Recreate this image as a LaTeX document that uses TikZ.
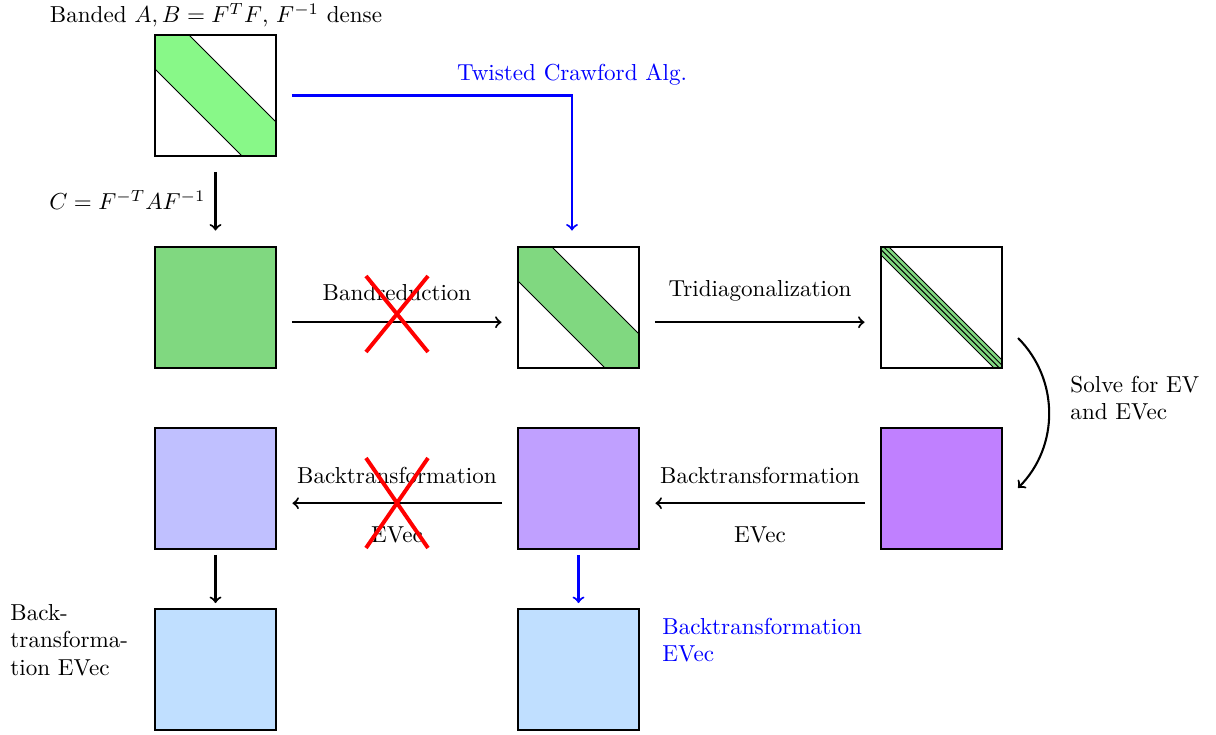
\documentclass[tikz,border=0pt]{standalone}
\usetikzlibrary{calc}
\definecolor{bandlight}{RGB}{136,248,136}
\definecolor{bandgreen}{RGB}{128,216,128}
\definecolor{purA}{RGB}{192,192,255}
\definecolor{purB}{RGB}{192,160,255}
\definecolor{purC}{RGB}{192,128,255}
\definecolor{lblue}{RGB}{192,223,255}
\tikzset{
  mat/.style={draw, minimum width=1.842cm, minimum height=1.842cm, inner sep=0pt, outer sep=0pt, line width=0.5pt},
  arr/.style={->, line width=0.9pt, shorten <=0.24cm, shorten >=0.25cm},
  sarr/.style={->, line width=0.9pt, shorten <=0.09cm, shorten >=0.09cm},
  barr/.style={arr, blue},
  cross/.style={red, line width=1.7pt},
  lbl/.style={inner sep=0pt},
}
\begin{document}
\begin{tikzpicture}[x=0.01522cm, y=-0.01522cm]
\useasboundingbox (0,0) rectangle (1216,734);
% matrices
\node[mat] (a0) at (215.5,95.5) {};
\node[mat, fill=bandgreen] (b1) at (215.5,307.5) {};
\node[mat] (b2) at (578.5,307.5) {};
\node[mat] (b3) at (941.5,307.5) {};
\node[mat, fill=purA] (c1) at (215.5,488.5) {};
\node[mat, fill=purB] (c2) at (578.5,488.5) {};
\node[mat, fill=purC] (c3) at (941.5,488.5) {};
\node[mat, fill=lblue] (d1) at (215.5,669.5) {};
\node[mat, fill=lblue] (d2) at (578.5,669.5) {};
% bands
\filldraw[fill=bandlight, line width=0.4pt] (155,35) -- (189,35) -- (276,122) -- (276,156) -- (242,156) -- (155,69) -- cycle;
\filldraw[fill=bandgreen, line width=0.4pt] (518,247) -- (552,247) -- (639,334) -- (639,368) -- (605,368) -- (518,281) -- cycle;
\filldraw[fill=bandgreen, line width=0.4pt] (881,247) -- (889,247) -- (1002,360) -- (1002,368) -- (994,368) -- (881,255) -- cycle;
\draw[line width=0.4pt] (883.67,247) -- (1002,365.33) (881,249.67) -- (999.33,368);
\node[mat] at (a0) {};
\node[mat] at (b2) {};
\node[mat] at (b3) {};
% texts
\node[lbl] (title) at (216,15) {Banded $A,B=F^TF$, $F^{-1}$ dense};
\node[lbl, anchor=east] (clbl) at (206,200) {$C=F^{-T}AF^{-1}$};
\node[lbl, blue] (tw) at (572,75) {Twisted Crawford Alg.};
\node[lbl] (br) at (397,293) {Bandreduction};
\node[lbl] (td) at (760,291) {Tridiagonalization};
\node[lbl, anchor=west, align=left] (solve) at (1070,398) {Solve for EV\\and EVec};
\node[lbl] (bt1) at (397,475) {Backtransformation};
\node[lbl] (ev1) at (397,535) {EVec};
\node[lbl] (bt2) at (760,475) {Backtransformation};
\node[lbl] (ev2) at (760,535) {EVec};
\node[lbl, anchor=west, align=left] (btl) at (10,640) {Back-\\transforma-\\tion EVec};
\node[lbl, anchor=west, align=left, blue] (btr) at (662,640) {Backtransformation\\EVec};
% connectors
\draw[arr] (a0.south) -- (b1.north);
\coordinate (tc) at (572,95.5);
\draw[barr] (a0.east) -- (tc) -- (tc |- b2.north);
\draw[arr] ([yshift=-0.224cm]b1.east) -- ([yshift=-0.224cm]b2.west);
\draw[arr] ([yshift=-0.224cm]b2.east) -- ([yshift=-0.224cm]b3.west);
\coordinate (s1) at (1018,338);
\coordinate (s2) at (1018,488);
\draw[->, line width=0.9pt] (s1) to[bend left=45] (s2);
\draw[arr] ([yshift=-0.224cm]c3.west) -- ([yshift=-0.224cm]c2.east);
\draw[arr] ([yshift=-0.224cm]c2.west) -- ([yshift=-0.224cm]c1.east);
\draw[sarr] (c1.south) -- (d1.north);
\draw[sarr, blue] (c2.south) -- (d2.north);
% crosses
\draw[cross] (366,276) -- (428,352) (366,352) -- (428,276);
\draw[cross] (366,458) -- (428,548) (366,548) -- (428,458);
\end{tikzpicture}
\end{document}
